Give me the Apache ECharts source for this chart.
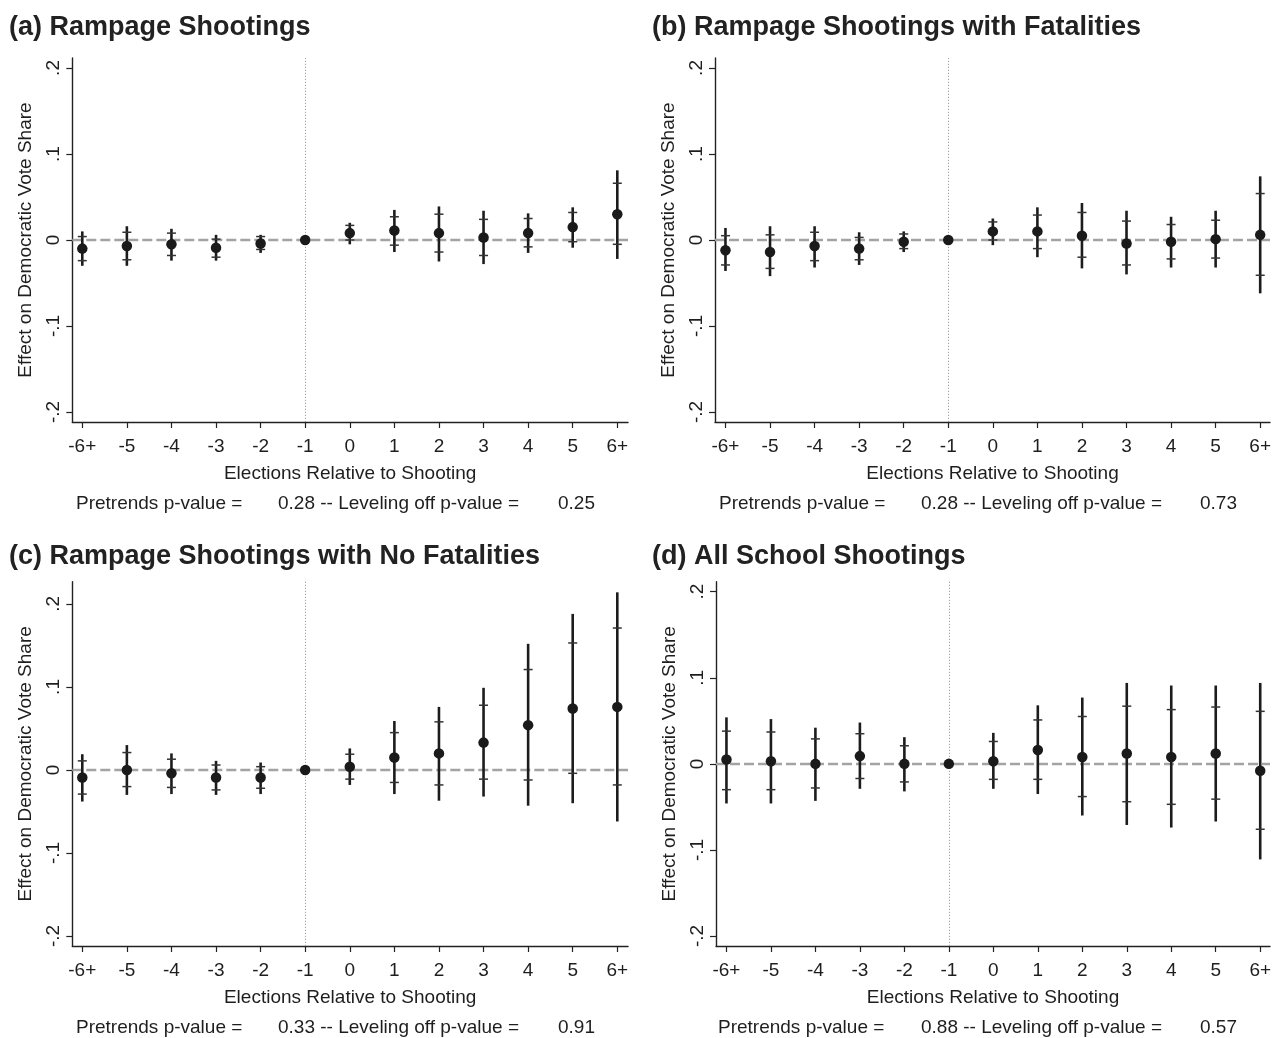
<!DOCTYPE html>
<html>
<head>
<meta charset="utf-8">
<script src="https://cdn.jsdelivr.net/npm/echarts@6/dist/echarts.min.js"></script>
<style>
html,body{margin:0;padding:0;background:#fff;}
#chart{width:1272px;height:1038px;}
</style>
</head>
<body>
<div id="chart"></div>
<script>
// ---------- categories / ticks ----------
const xTickLabels = ['-6+','-5','-4','-3','-2','-1','0','1','2','3','4','5','6+'];
const xTickValues = [0,1,2,3,4,5,6,7,8,9,10,11,12];
const yTickValues = [-0.2,-0.1,0,0.1,0.2];
const yTickLabels = ['-.2','-.1','0','.1','.2'];
const refIndex = 5; // "-1" reference election

// ---------- panel titles and notes ----------
const panelTitles = ['(a) Rampage Shootings','(b) Rampage Shootings with Fatalities','(c) Rampage Shootings with No Fatalities','(d) All School Shootings'];
const pretrendsP = ['0.28','0.28','0.33','0.88'];
const levelingP = ['0.25','0.73','0.91','0.57'];

// ---------- (a) Rampage Shootings ----------
const estA  = [-0.010,-0.007,-0.005,-0.009,-0.004,0,0.008,0.011,0.008,0.003,0.008,0.015,0.030];
const hi95A = [0.010,0.016,0.013,0.006,0.006,null,0.020,0.035,0.039,0.034,0.031,0.038,0.081];
const hi90A = [0.004,0.009,0.008,0.001,0.004,null,0.017,0.027,0.030,0.024,0.025,0.032,0.066];
const lo90A = [-0.024,-0.023,-0.018,-0.020,-0.011,null,0.000,-0.006,-0.014,-0.018,-0.008,-0.002,-0.005];
const lo95A = [-0.030,-0.030,-0.024,-0.024,-0.015,null,-0.005,-0.014,-0.025,-0.028,-0.015,-0.009,-0.022];

// ---------- (b) Rampage Shootings with Fatalities ----------
const estB  = [-0.012,-0.014,-0.007,-0.010,-0.002,0,0.010,0.010,0.005,-0.004,-0.002,0.001,0.006];
const hi95B = [0.014,0.016,0.016,0.009,0.010,null,0.025,0.038,0.043,0.034,0.027,0.034,0.074];
const hi90B = [0.005,0.006,0.009,0.003,0.007,null,0.021,0.029,0.032,0.022,0.018,0.023,0.054];
const lo90B = [-0.029,-0.033,-0.024,-0.023,-0.010,null,0.000,-0.010,-0.020,-0.029,-0.022,-0.021,-0.041];
const lo95B = [-0.036,-0.042,-0.032,-0.029,-0.014,null,-0.006,-0.020,-0.033,-0.040,-0.032,-0.032,-0.062];

// ---------- (c) Rampage Shootings with No Fatalities ----------
const estC  = [-0.009,0.000,-0.004,-0.009,-0.009,0,0.004,0.015,0.020,0.033,0.054,0.074,0.076];
const hi95C = [0.019,0.030,0.020,0.011,0.009,null,0.026,0.059,0.076,0.099,0.152,0.188,0.214];
const hi90C = [0.011,0.021,0.013,0.006,0.004,null,0.019,0.045,0.058,0.078,0.121,0.153,0.171];
const lo90C = [-0.029,-0.020,-0.021,-0.024,-0.022,null,-0.011,-0.015,-0.018,-0.011,-0.012,-0.004,-0.018];
const lo95C = [-0.038,-0.030,-0.029,-0.030,-0.029,null,-0.018,-0.029,-0.037,-0.032,-0.043,-0.040,-0.062];

// ---------- (d) All School Shootings ----------
const estD  = [0.005,0.003,0.000,0.009,0.000,0,0.003,0.016,0.008,0.012,0.008,0.012,-0.008];
const hi95D = [0.054,0.052,0.042,0.048,0.031,null,0.036,0.068,0.077,0.094,0.091,0.091,0.094];
const hi90D = [0.038,0.037,0.029,0.035,0.021,null,0.026,0.051,0.055,0.067,0.063,0.066,0.061];
const lo90D = [-0.030,-0.030,-0.028,-0.017,-0.021,null,-0.018,-0.018,-0.038,-0.044,-0.047,-0.041,-0.076];
const lo95D = [-0.046,-0.046,-0.043,-0.029,-0.032,null,-0.029,-0.035,-0.060,-0.071,-0.074,-0.067,-0.111];

const panelData = [
  {est:estA, lo95:lo95A, hi95:hi95A, lo90:lo90A, hi90:hi90A},
  {est:estB, lo95:lo95B, hi95:hi95B, lo90:lo90B, hi90:hi90B},
  {est:estC, lo95:lo95C, hi95:hi95C, lo90:lo90C, hi90:hi90C},
  {est:estD, lo95:lo95D, hi95:hi95D, lo90:lo90D, hi90:hi90D}
];

// ---------- layout (positions / styles) ----------
const FONT = "'Liberation Sans', Arial, Helvetica, sans-serif";
const TXT = '#1e1e1e';
const layouts = [
  {left:72.3, top:58,    width:555.7, height:364,   xmin:-0.224, xmax:12.24, ymin:-0.2116, ymax:0.2116, titleX:9,   titleY:14,  noteY:494,  noteX:[76,278,558]},
  {left:715,  top:58,    width:555,   height:364,   xmin:-0.235, xmax:12.22, ymin:-0.2116, ymax:0.2116, titleX:652, titleY:14,  noteY:494,  noteX:[719,921,1200]},
  {left:72.3, top:581.7, width:555.7, height:364.3, xmin:-0.224, xmax:12.24, ymin:-0.212,  ymax:0.2268, titleX:9,   titleY:543, noteY:1018, noteX:[76,278,558]},
  {left:716,  top:581.7, width:554,   height:364.3, xmin:-0.235, xmax:12.22, ymin:-0.2116, ymax:0.2116, titleX:652, titleY:543, noteY:1018, noteX:[718,921,1200]}
];

const grids = [], xAxes = [], yAxes = [], series = [], titles = [];

layouts.forEach((L, p) => {
  const d = panelData[p];
  grids.push({left:L.left, top:L.top, width:L.width, height:L.height, containLabel:false, outerBoundsMode:'none'});
  xAxes.push({
    type:'value', gridIndex:p, min:L.xmin, max:L.xmax,
    splitLine:{show:false},
    axisLine:{show:true, onZero:false, lineStyle:{color:'#222', width:1.4}},
    axisTick:{show:true, inside:false, length:6, customValues:xTickValues, lineStyle:{color:'#222', width:1.2}},
    axisLabel:{show:true, customValues:xTickValues, margin:15, color:TXT, fontSize:19, fontFamily:FONT,
      formatter: v => xTickLabels[Math.round(v)]},
    name:'Elections Relative to Shooting', nameLocation:'middle', nameGap:42,
    nameTextStyle:{color:TXT, fontSize:19, fontFamily:FONT}
  });
  yAxes.push({
    type:'value', gridIndex:p, min:L.ymin, max:L.ymax,
    splitLine:{show:false},
    axisLine:{show:true, onZero:false, lineStyle:{color:'#222', width:1.4}},
    axisTick:{show:true, inside:false, length:6, customValues:yTickValues, lineStyle:{color:'#222', width:1.2}},
    axisLabel:{show:true, customValues:yTickValues, rotate:90, margin:9, color:TXT, fontSize:19, fontFamily:FONT,
      formatter: v => { const i = yTickValues.findIndex(t => Math.abs(t - v) < 1e-9); return i >= 0 ? yTickLabels[i] : ''; }},
    name:'Effect on Democratic Vote Share', nameLocation:'middle', nameGap:37,
    nameTextStyle:{color:TXT, fontSize:19, fontFamily:FONT}
  });

  // reference lines
  series.push({
    type:'scatter', xAxisIndex:p, yAxisIndex:p, data:[], z:1, silent:true,
    markLine:{
      silent:true, symbol:'none', animation:false, label:{show:false}, z:1,
      data:[
        {yAxis:0, lineStyle:{color:'#a3a3a3', width:2.4, type:[10,4]}},
        {xAxis:refIndex, lineStyle:{color:'#a0a0a0', width:1, type:[1.2,1.8]}}
      ]
    }
  });

  // confidence intervals
  const ciData = [];
  xTickValues.forEach(i => {
    if (d.lo95[i] !== null) ciData.push([i, d.lo95[i], d.hi95[i], d.lo90[i], d.hi90[i]]);
  });
  series.push({
    type:'custom', xAxisIndex:p, yAxisIndex:p, z:8, silent:true,
    encode:{x:0, y:[1,2,3,4]},
    data:ciData,
    renderItem:(params, api) => {
      const x = api.value(0);
      const a = api.coord([x, api.value(1)]);
      const b = api.coord([x, api.value(2)]);
      const c = api.coord([x, api.value(3)]);
      const e = api.coord([x, api.value(4)]);
      const hw = 4.5;
      return {type:'group', children:[
        {type:'line', shape:{x1:a[0], y1:a[1], x2:b[0], y2:b[1]}, style:{stroke:'#1c1c1c', lineWidth:2.6}},
        {type:'line', shape:{x1:c[0]-hw, y1:c[1], x2:c[0]+hw, y2:c[1]}, style:{stroke:'#333', lineWidth:1.5}},
        {type:'line', shape:{x1:e[0]-hw, y1:e[1], x2:e[0]+hw, y2:e[1]}, style:{stroke:'#333', lineWidth:1.5}}
      ]};
    }
  });

  // point estimates
  series.push({
    type:'scatter', xAxisIndex:p, yAxisIndex:p, z:10, silent:true,
    symbol:'circle', symbolSize:10.5,
    itemStyle:{color:'#1a1a1a', opacity:1},
    data: d.est.map((v, i) => [i, v])
  });

  titles.push({text:panelTitles[p], left:L.titleX, top:L.titleY, padding:0,
    textStyle:{fontSize:27, fontWeight:'bold', color:'#222', fontFamily:FONT}});
  const notes = ['Pretrends p-value =', pretrendsP[p] + ' -- Leveling off p-value =', levelingP[p]];
  notes.forEach((t, k) => {
    titles.push({text:t, left:L.noteX[k], top:L.noteY, padding:0,
      textStyle:{fontSize:19, fontWeight:'normal', color:TXT, fontFamily:FONT}});
  });
});

const chart = echarts.init(document.getElementById('chart'), null, {renderer:'canvas'});
chart.setOption({
  animation:false,
  backgroundColor:'#fff',
  title:titles,
  grid:grids,
  xAxis:xAxes,
  yAxis:yAxes,
  series:series
});
</script>
</body>
</html>
